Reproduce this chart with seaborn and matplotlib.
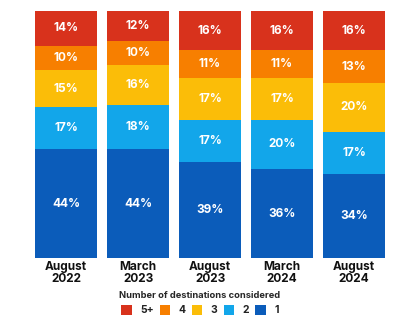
import numpy as np
import pandas as pd
import matplotlib
matplotlib.use("Agg")
import matplotlib.pyplot as plt
import seaborn as sns
from matplotlib.patches import Patch

periods = ["August\n2022", "March\n2023", "August\n2023", "March\n2024", "August\n2024"]
levels = ["1", "2", "3", "4", "5+"]
v1 = [44, 44, 39, 36, 34]
v2 = [17, 18, 17, 20, 17]
v3 = [15, 16, 17, 17, 20]
v4 = [10, 10, 11, 11, 13]
v5 = [14, 12, 16, 16, 16]
colors = ["#0b5cba", "#12a6ea", "#fbbd08", "#f77f00", "#d8321c"]

sns.set_theme(style="white")
plt.rcParams["font.family"] = ["Inter", "DejaVu Sans"]

series = [v1, v2, v3, v4, v5]
vals = np.array(series, dtype=float)
cum = np.cumsum(vals, axis=0)

fig = plt.figure(figsize=(4.0, 3.21), dpi=100)
ax = fig.add_axes([0.075, 0.196, 0.9, 0.77])

# draw from top cumulative to bottom so each layer covers the previous
for i in range(len(levels) - 1, -1, -1):
    df = pd.DataFrame({"period": periods, "cum": cum[i]})
    sns.barplot(data=df, x="period", y="cum", color=colors[i], width=0.86,
                saturation=1, ax=ax, order=periods, edgecolor="none", linewidth=0)

# labels
for j in range(len(periods)):
    for i in range(len(levels)):
        bottom = cum[i][j] - vals[i, j]
        ax.text(j, bottom + vals[i, j] / 2, f"{int(vals[i, j])}%", ha="center", va="center",
                color="white", fontsize=8.5, fontweight="bold")

ax.set_ylim(0, 100)
ax.set_xlim(-0.5, 4.5)
ax.set_ylabel("")
ax.set_xlabel("")
ax.set_yticks([])
ax.tick_params(axis="x", length=0, pad=2)
for lab in ax.get_xticklabels():
    lab.set_fontweight("bold")
    lab.set_fontsize(8.5)
    lab.set_linespacing(1.0)
    lab.set_color("#111111")
for s in ax.spines.values():
    s.set_visible(False)

handles = [Patch(facecolor=colors[i], edgecolor="none") for i in range(len(levels) - 1, -1, -1)]
labs = [levels[i] for i in range(len(levels) - 1, -1, -1)]
leg = fig.legend(handles, labs, title="Number of destinations considered", ncol=5,
                 loc="lower center", bbox_to_anchor=(0.5, -0.012), frameon=False,
                 fontsize=7.5, title_fontproperties={"weight": "bold", "size": 6.7},
                 handlelength=1.0, handleheight=1.0, columnspacing=0.6, handletextpad=0.8)
for t in leg.get_texts():
    t.set_fontweight("bold")
    t.set_color("#222222")

fig.savefig("out.png", dpi=100, facecolor="white")
